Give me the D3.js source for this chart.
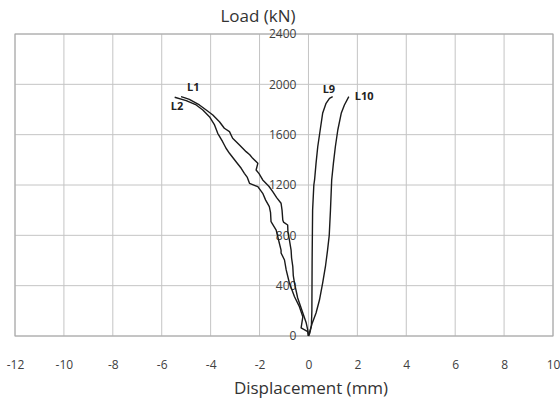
<!DOCTYPE html>
<html>
<head>
<meta charset="utf-8">
<script src="https://cdn.jsdelivr.net/npm/d3@7"></script>
<style>
  body { margin: 0; background: #fff; }
  text { font-family: "Open Sans", "Noto Sans", sans-serif; }
</style>
</head>
<body>
<div id="chart"></div>
<script>
var w = 560, h = 404;

// displacement (mm), load (kN)
var xTicks = [-12, -10, -8, -6, -4, -2, 0, 2, 4, 6, 8, 10];
var yTicks = [0, 400, 800, 1200, 1600, 2000, 2400];

var L1 = [
  [0, 0], [-0.03, 48], [-0.09, 103], [-0.23, 183], [-0.44, 302], [-0.57, 419],
  [-0.62, 480], [-0.64, 551], [-0.69, 620], [-0.71, 683], [-0.78, 763],
  [-0.84, 830], [-0.85, 882], [-1.02, 905], [-1.05, 922], [-1.08, 1000],
  [-1.12, 1055], [-1.30, 1100], [-1.46, 1147], [-1.62, 1190], [-1.87, 1240],
  [-2.02, 1290], [-2.14, 1319], [-2.07, 1372], [-2.28, 1412], [-2.40, 1440],
  [-2.55, 1465], [-2.82, 1518], [-3.10, 1571], [-3.23, 1624], [-3.44, 1651],
  [-3.64, 1703], [-3.91, 1756], [-4.18, 1796], [-4.46, 1836], [-4.87, 1881],
  [-5.05, 1893], [-5.21, 1902]
];

var L2 = [
  [0, 0], [-0.03, 34], [-0.30, 64], [-0.23, 153], [-0.37, 233], [-0.57, 312],
  [-0.78, 421], [-0.91, 525], [-0.98, 604], [-1.12, 660], [-1.12, 683],
  [-1.19, 737], [-1.32, 842], [-1.53, 908], [-1.55, 980], [-1.60, 1028],
  [-1.75, 1080], [-1.87, 1134], [-2.07, 1187], [-2.41, 1213], [-2.50, 1260],
  [-2.62, 1293], [-2.75, 1333], [-2.96, 1385], [-3.23, 1452], [-3.37, 1492],
  [-3.51, 1544], [-3.71, 1611], [-3.84, 1677], [-4.05, 1743], [-4.32, 1796],
  [-4.59, 1836], [-5.00, 1870], [-5.47, 1897]
];

var L9 = [
  [0, 0], [0.05, 20], [0.12, 80], [0.14, 200], [0.15, 600], [0.17, 1000],
  [0.22, 1200], [0.25, 1240], [0.31, 1372], [0.38, 1504], [0.48, 1637],
  [0.58, 1770], [0.72, 1849], [0.86, 1889], [0.99, 1902]
];

var L10 = [
  [0, 0], [0.15, 100], [0.31, 183], [0.45, 286], [0.58, 420], [0.70, 560],
  [0.78, 680], [0.85, 800], [0.90, 1000], [0.95, 1240], [1.02, 1372],
  [1.10, 1504], [1.20, 1637], [1.34, 1770], [1.47, 1836], [1.65, 1902]
];

var series = [
  { name: "L1", values: L1, dx: 6, dy: -10 },
  { name: "L2", values: L2, dx: -4, dy: 9 },
  { name: "L9", values: L9, dx: -10, dy: -8 },
  { name: "L10", values: L10, dx: 6, dy: -1 }
];

var svg = d3.select("#chart").append("svg")
  .attr("width", w)
  .attr("height", h);

var x = d3.scaleLinear().domain([-12, 10]).range([15, 553]);
var y = d3.scaleLinear().domain([0, 2400]).range([336, 34]);

// plain labels with a hyphen minus, no thousands separator
var fmt = function(d){ return String(d); };

// grid
svg.append("g").selectAll("line.vx")
  .data(xTicks)
  .enter().append("line")
  .attr("x1", function(d){ return x(d); })
  .attr("x2", function(d){ return x(d); })
  .attr("y1", y(0))
  .attr("y2", y(2400))
  .style("stroke", "#c4c4c4")
  .style("stroke-width", 1);

svg.append("g").selectAll("line.hy")
  .data(yTicks)
  .enter().append("line")
  .attr("x1", x(-12))
  .attr("x2", x(10))
  .attr("y1", function(d){ return y(d); })
  .attr("y2", function(d){ return y(d); })
  .style("stroke", "#c4c4c4")
  .style("stroke-width", 1);

// frame
svg.append("rect")
  .attr("x", x(-12))
  .attr("y", y(2400))
  .attr("width", x(10) - x(-12))
  .attr("height", y(0) - y(2400))
  .style("fill", "none")
  .style("stroke", "#a8a8a8")
  .style("stroke-width", 1);

// x tick labels
var xAxis = svg.append("g")
  .attr("transform", "translate(0," + y(0) + ")")
  .call(d3.axisBottom(x).tickValues(xTicks).tickFormat(fmt).tickSize(0).tickPadding(24));
xAxis.select(".domain").remove();
xAxis.selectAll("text")
  .style("font-size", "12px")
  .style("fill", "#404040");

// y tick labels, next to the zero line
var yAxis = svg.append("g")
  .attr("transform", "translate(" + x(0) + ",0)")
  .call(d3.axisLeft(y).tickValues(yTicks).tickFormat(fmt).tickSize(0).tickPadding(12));
yAxis.select(".domain").remove();
yAxis.selectAll("text")
  .style("font-size", "12px")
  .style("fill", "#404040");

// curves
var line = d3.line()
  .x(function(d){ return x(d[0]); })
  .y(function(d){ return y(d[1]); });

svg.append("g").selectAll("path")
  .data(series)
  .enter().append("path")
  .attr("d", function(d){ return line(d.values); })
  .style("fill", "none")
  .style("stroke", "#1a1a1a")
  .style("stroke-width", 1.4)
  .style("stroke-linejoin", "round");

// series labels near the top end of each curve
svg.append("g").selectAll("text")
  .data(series)
  .enter().append("text")
  .attr("x", function(d){ var p = d.values[d.values.length - 1]; return x(p[0]) + d.dx; })
  .attr("y", function(d){ var p = d.values[d.values.length - 1]; return y(p[1]) + d.dy; })
  .attr("dy", "0.35em")
  .style("font-size", "11px")
  .style("font-weight", "bold")
  .style("fill", "#222")
  .text(function(d){ return d.name; });

// axis titles
svg.append("text")
  .attr("x", 258)
  .attr("y", 22)
  .attr("text-anchor", "middle")
  .style("font-size", "17px")
  .style("fill", "#333")
  .text("Load (kN)");

svg.append("text")
  .attr("x", 311)
  .attr("y", 394)
  .attr("text-anchor", "middle")
  .style("font-size", "17px")
  .style("fill", "#333")
  .text("Displacement (mm)");
</script>
</body>
</html>
